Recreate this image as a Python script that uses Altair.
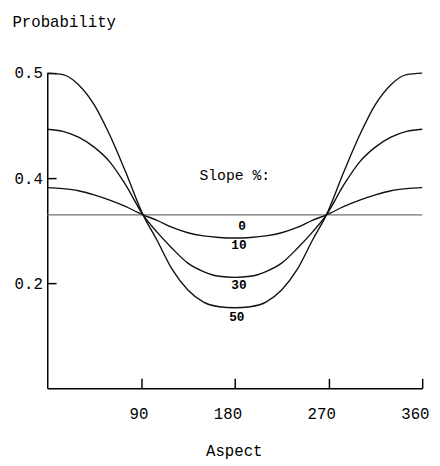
import altair as alt
import pandas as pd

# ---- data ----
aspect = [0, 15, 30, 45, 60, 75, 92, 105, 120, 135, 150, 165, 180,
          195, 210, 225, 240, 255, 268, 285, 300, 315, 330, 345, 360]

slope_0 = [0.330, 0.330, 0.330, 0.330, 0.330, 0.330, 0.330, 0.330, 0.330, 0.330, 0.330, 0.330, 0.330,
           0.330, 0.330, 0.330, 0.330, 0.330, 0.330, 0.330, 0.330, 0.330, 0.330, 0.330, 0.330]
slope_10 = [0.382, 0.380, 0.376, 0.368, 0.358, 0.346, 0.330, 0.320, 0.306, 0.296, 0.290, 0.287, 0.286,
            0.287, 0.290, 0.296, 0.306, 0.320, 0.330, 0.346, 0.358, 0.368, 0.376, 0.380, 0.382]
slope_30 = [0.493, 0.489, 0.478, 0.459, 0.431, 0.388, 0.330, 0.298, 0.266, 0.238, 0.222, 0.213, 0.211,
            0.213, 0.222, 0.238, 0.266, 0.298, 0.330, 0.388, 0.431, 0.459, 0.478, 0.489, 0.493]
slope_50 = [0.600, 0.597, 0.578, 0.540, 0.482, 0.413, 0.330, 0.283, 0.226, 0.187, 0.164, 0.155, 0.153,
            0.155, 0.164, 0.187, 0.226, 0.283, 0.330, 0.413, 0.482, 0.540, 0.578, 0.597, 0.600]

series_names = ["0", "10", "30", "50"]
series_values = [slope_0, slope_10, slope_30, slope_50]

x_ticks = [90, 180, 270, 360]
y_ticks = [0.2, 0.4, 0.6]
y_tick_labels = ["0.2", "0.4", "0.5"]

note_text = ["Slope %:"]
note_x = [180]
note_y = [0.406]

curve_label_text = ["0", "10", "30", "50"]
curve_label_x = [187, 184, 184, 182]
curve_label_y = [0.309, 0.272, 0.197, 0.136]

FONT = "Liberation Mono"
W, H = 382, 321

# ---- tables ----
rows = []
for name, vals in zip(series_names, series_values):
    for a, v in zip(aspect, vals):
        rows.append({"slope": name, "aspect": a, "prob": v})
df = pd.DataFrame(rows)
notes = pd.DataFrame({"text": note_text, "aspect": note_x, "prob": note_y})
clabels = pd.DataFrame({"text": curve_label_text, "aspect": curve_label_x, "prob": curve_label_y})

label_expr = " ".join(f"datum.value == {v} ? '{l}' :" for v, l in zip(y_ticks, y_tick_labels)) + " ''"

xscale = alt.Scale(domain=[0, 360], nice=False, zero=False)
yscale = alt.Scale(domain=[0, 0.6], nice=False)

# main axes: domain lines, labels and titles
xaxis = alt.Axis(values=x_ticks, ticks=False, grid=False, domain=True,
                 domainColor="#000", domainWidth=1.5,
                 labelFont=FONT, labelFontSize=16, labelColor="#000",
                 labelAlign="right", labelOffset=7, labelBaseline="top", labelPadding=18,
                 labelFlush=False,
                 title="Aspect", titleFont=FONT, titleFontSize=16, titleFontWeight="normal",
                 titleColor="#000", titleX=190, titleY=69, titleBaseline="alphabetic",
                 titleAlign="center")
yaxis = alt.Axis(values=y_ticks, ticks=False, grid=False, domain=True,
                 domainColor="#000", domainWidth=1.5, labelExpr=label_expr,
                 labelFont=FONT, labelFontSize=16, labelColor="#000",
                 labelAlign="right", labelBaseline="alphabetic", labelOffset=5, labelPadding=5,
                 labelFlush=False,
                 title="Probability", titleFont=FONT, titleFontSize=16, titleFontWeight="normal",
                 titleColor="#000", titleAngle=0, titleAlign="left", titleBaseline="alphabetic",
                 titleX=-36, titleY=-47)

# secondary axes, moved onto the main ones, to draw the inward-pointing ticks
xtick_axis = alt.Axis(orient="top", offset=-H, values=x_ticks, ticks=True, tickSize=10,
                      tickWidth=1.5, tickColor="#000", labels=False, domain=False, grid=False,
                      title="")
ytick_axis = alt.Axis(orient="right", offset=-W, values=y_ticks, ticks=True, tickSize=9,
                      tickWidth=1.5, tickColor="#000", labels=False, domain=False, grid=False,
                      title="")

lines = alt.Chart(df).mark_line(interpolate="monotone", strokeWidth=1.4).encode(
    x=alt.X("aspect:Q", scale=xscale, axis=xaxis),
    y=alt.Y("prob:Q", scale=yscale, axis=yaxis),
    color=alt.Color("slope:N", scale=alt.Scale(domain=series_names,
                                               range=["#707070", "#111111", "#111111", "#111111"]),
                    legend=None),
    detail="slope:N",
)

note_layer = alt.Chart(notes).mark_text(font=FONT, fontSize=15, color="#000",
                                        baseline="middle", align="center").encode(
    x=alt.X("aspect:Q", scale=xscale, axis=xtick_axis),
    y=alt.Y("prob:Q", scale=yscale, axis=ytick_axis), text="text:N")
clabel_layer = alt.Chart(clabels).mark_text(font=FONT, fontSize=13, fontWeight="bold", color="#000",
                                            baseline="middle", align="center").encode(
    x=alt.X("aspect:Q", scale=xscale, axis=None),
    y=alt.Y("prob:Q", scale=yscale, axis=None), text="text:N")

chart = alt.layer(lines, note_layer, clabel_layer).resolve_axis(
    x="independent", y="independent"
).properties(
    width=W, height=H,
    padding={"left": 40, "top": 62, "right": 10, "bottom": 75},
    autosize=alt.AutoSizeParams(type="none"),
    background="white",
).configure_view(stroke=None)

chart.save("out.html", embed_options={"renderer": "svg", "actions": False})
